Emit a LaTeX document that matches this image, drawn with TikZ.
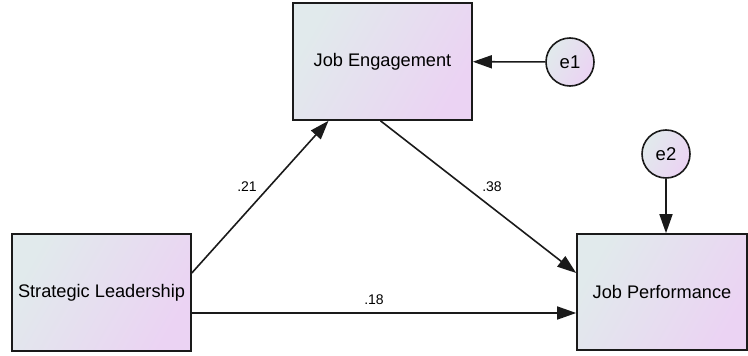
\documentclass[tikz,border=0pt]{standalone}
\usepackage{fontspec}
\setmainfont{Liberation Sans}
\usetikzlibrary{arrows.meta}
\definecolor{shadeA}{HTML}{E1EAEC}
\definecolor{shadeB}{HTML}{EBD3F3}
\definecolor{edge}{HTML}{1A1A1A}
\tikzset{
  varbox/.style={draw=edge, line width=1.6pt, left color=shadeA, right color=shadeB,
    shading angle=60, minimum width=179pt, minimum height=117pt, inner sep=0pt,
    font=\fontsize{18.2}{21}\selectfont},
  errnode/.style={circle, draw=edge, line width=1.6pt, left color=shadeA, right color=shadeB,
    shading angle=60, minimum size=48pt, inner sep=0pt, font=\fontsize{18.5}{21}\selectfont},
  path/.style={draw=edge, line width=1.6pt, -{Triangle[length=19pt,width=13pt]}},
  coef/.style={font=\fontsize{14}{16}\selectfont, inner sep=0pt}
}
\begin{document}
\begin{tikzpicture}[x=1pt,y=-1pt]
  \useasboundingbox (0,0) rectangle (748,356);
  % observed variables
  \node[varbox] (JE) at (382.5,61.5) {Job Engagement};
  \node[varbox] (SL) at (101.5,292.5) {Strategic Leadership};
  \node[varbox, minimum width=170pt, minimum height=116pt] (JP) at (662,292) {Job Performance};
  % error terms
  \node[errnode] (e1) at (570,62) {e1};
  \node[errnode] (e2) at (666,154) {e2};
  % structural paths
  \draw[path] ([yshift=19.5pt]SL.east) -- ([xshift=-54pt]JE.south);
  \draw[path] ([xshift=-2pt]JE.south) -- ([yshift=19pt]JP.west);
  \draw[path] ([yshift=-20.5pt]SL.east) -- ([yshift=-21pt]JP.west);
  \draw[path] (e1) -- (JE);
  \draw[path] (e2) -- (JP.north -| e2);
  % path coefficients
  \node[coef] (c1) at (247,187) {.21};
  \node[coef] (c2) at (492,187) {.38};
  \node[coef] (c3) at (374,300) {.18};
\end{tikzpicture}
\end{document}
